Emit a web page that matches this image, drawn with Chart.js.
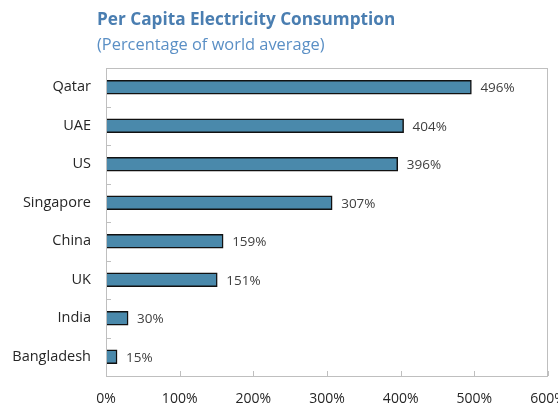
<!DOCTYPE html>
<html>
<head>
<meta charset="utf-8">
<script src="https://cdn.jsdelivr.net/npm/chart.js@4"></script>
<style>
    body { margin: 0; background: #fff; }
    #wrap { position: relative; width: 558px; height: 408px; }
    #title { position: absolute; left: 97px; top: 7px; font: bold 17.2px "Open Sans", sans-serif; color: #4a7eb1; }
    #sub { position: absolute; left: 97px; top: 32px; font: 16.4px "Open Sans", sans-serif; color: #5a8fc5; }
    canvas { position: absolute; left: 0; top: 0; }
</style>
</head>
<body>
<div id="wrap">
    <canvas id="c" width="558" height="408"></canvas>
    <div id="title">Per Capita Electricity Consumption</div>
    <div id="sub">(Percentage of world average)</div>
</div>
<script>
const countries = ["Qatar", "UAE", "US", "Singapore", "China", "UK", "India", "Bangladesh"];
const shareOfWorld = [496, 404, 396, 307, 159, 151, 30, 15];
const xTicks = [0, 100, 200, 300, 400, 500, 600];

// ===== frame + inward ticks =====
const framePlugin = {
    id: "frame",
    afterDraw(chart) {
        const { ctx, chartArea: a, scales: { x, y } } = chart;
        ctx.save();
        ctx.strokeStyle = "#bfbfbf";
        ctx.lineWidth = 1;
        ctx.strokeRect(a.left + 0.5, a.top + 0.5, a.right - a.left - 1, a.bottom - a.top);
        ctx.beginPath();
        xTicks.forEach(v => {
            const px = Math.round(x.getPixelForValue(v)) + 0.5;
            ctx.moveTo(px, a.bottom);
            ctx.lineTo(px, a.bottom - 5);
        });
        for (let i = 1; i < countries.length; i++) {
            const py = Math.round((y.getPixelForValue(i - 1) + y.getPixelForValue(i)) / 2) + 0.5;
            ctx.moveTo(a.left, py);
            ctx.lineTo(a.left + 5, py);
        }
        ctx.stroke();
        ctx.restore();
    }
};

// ===== value labels =====
const labelPlugin = {
    id: "valueLabels",
    afterDatasetsDraw(chart) {
        const { ctx } = chart;
        ctx.save();
        ctx.font = "13.5px 'Open Sans'";
        ctx.fillStyle = "#404040";
        ctx.textBaseline = "middle";
        chart.getDatasetMeta(0).data.forEach((bar, i) => {
            ctx.fillText(shareOfWorld[i] + "%", bar.x + 9, bar.y + 1);
        });
        ctx.restore();
    }
};

new Chart(document.getElementById("c"), {
    type: "bar",
    data: {
        labels: countries,
        datasets: [{
            data: shareOfWorld,
            backgroundColor: "#4a89ab",
            borderColor: "#111",
            borderWidth: 1.5,
            barThickness: 14
        }]
    },
    options: {
        indexAxis: "y",
        responsive: false,
        animation: false,
        layout: { padding: { top: 68, right: 10, left: 0, bottom: 4 } },
        plugins: { legend: { display: false }, tooltip: { enabled: false } },
        scales: {
            x: {
                min: 0, max: 600,
                afterBuildTicks: s => { s.ticks = xTicks.map(v => ({ value: v })); },
                afterFit: s => { s.paddingLeft = 0; s.paddingRight = 0; s.height = 28; },
                grid: { display: false, drawTicks: false },
                border: { display: false },
                ticks: {
                    padding: 15,
                    color: "#262626",
                    font: { family: "Open Sans", size: 14 },
                    callback: v => v + "%"
                }
            },
            y: {
                afterFit: s => { s.width = 106; },
                grid: { display: false, drawTicks: false },
                border: { display: false },
                ticks: {
                    padding: 15,
                    color: "#262626",
                    font: { family: "Open Sans", size: 14.5 }
                }
            }
        }
    },
    plugins: [framePlugin, labelPlugin]
});
</script>
</body>
</html>
